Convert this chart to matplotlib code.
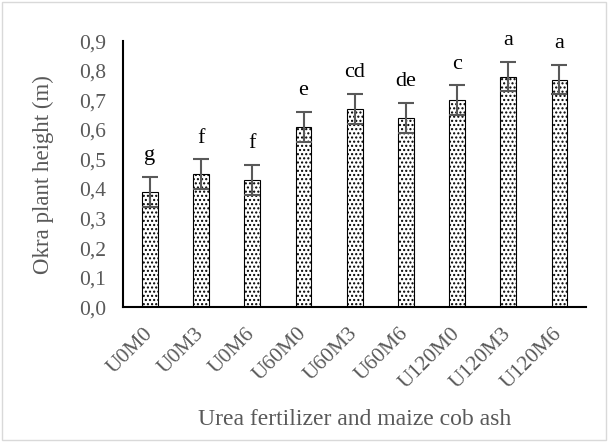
import numpy as np
import matplotlib.pyplot as plt
from matplotlib.ticker import FuncFormatter

treatments = ['U0M0', 'U0M3', 'U0M6', 'U60M0', 'U60M3', 'U60M6', 'U120M0', 'U120M3', 'U120M6']
height = [0.39, 0.45, 0.43, 0.61, 0.67, 0.64, 0.70, 0.78, 0.77]
err = [0.05, 0.05, 0.05, 0.05, 0.05, 0.05, 0.05, 0.05, 0.05]
letters = ['g', 'f', 'f', 'e', 'cd', 'de', 'c', 'a', 'a']
# ---

plt.rcParams['font.family'] = 'Liberation Serif'
plt.rcParams['hatch.linewidth'] = 1.0
grey = '#595959'

fig = plt.figure(figsize=(6.08, 4.42), dpi=100)
ax = fig.add_axes([0.202, 0.305, 0.762, 0.602])

x = np.arange(len(treatments))
ax.bar(x, height, width=0.31, color='white', edgecolor='black', hatch='....', linewidth=0.8)
ax.errorbar(x, height, yerr=err, fmt='none', ecolor=grey, elinewidth=1.5, capsize=6, capthick=1.5)

for xi, h, e, lab in zip(x, height, err, letters):
    ax.text(xi, h + e + 0.04, lab, ha='center', va='bottom', fontsize=16, color='black')

ax.set_xlim(-0.53, 8.52)
ax.set_ylim(0, 0.9)
ax.set_yticks(np.arange(0, 0.91, 0.1))
ax.yaxis.set_major_formatter(FuncFormatter(lambda v, p: '{:.1f}'.format(v).replace('.', ',')))
ax.set_xticks(x)
ax.set_xticklabels(treatments, rotation=45, ha='right', va='center', rotation_mode='anchor')
ax.tick_params(axis='both', length=0, labelsize=15.5, labelcolor=grey)
ax.tick_params(axis='x', pad=17)
ax.tick_params(axis='y', pad=12)

for s in ['top', 'right']:
    ax.spines[s].set_visible(False)
ax.spines['left'].set_linewidth(1.5)
ax.spines['bottom'].set_linewidth(1.5)

ax.set_ylabel('Okra plant height (m)', fontsize=16.5, color=grey, labelpad=18)
ax.set_xlabel('Urea fertilizer and maize cob ash', fontsize=17, color=grey, labelpad=12)

fig.patches.append(plt.Rectangle((0.004, 0.004), 0.992, 0.992, transform=fig.transFigure,
                                 fill=False, edgecolor='#d9d9d9', linewidth=1))

plt.savefig('out.png', dpi=100)
plt.close()
